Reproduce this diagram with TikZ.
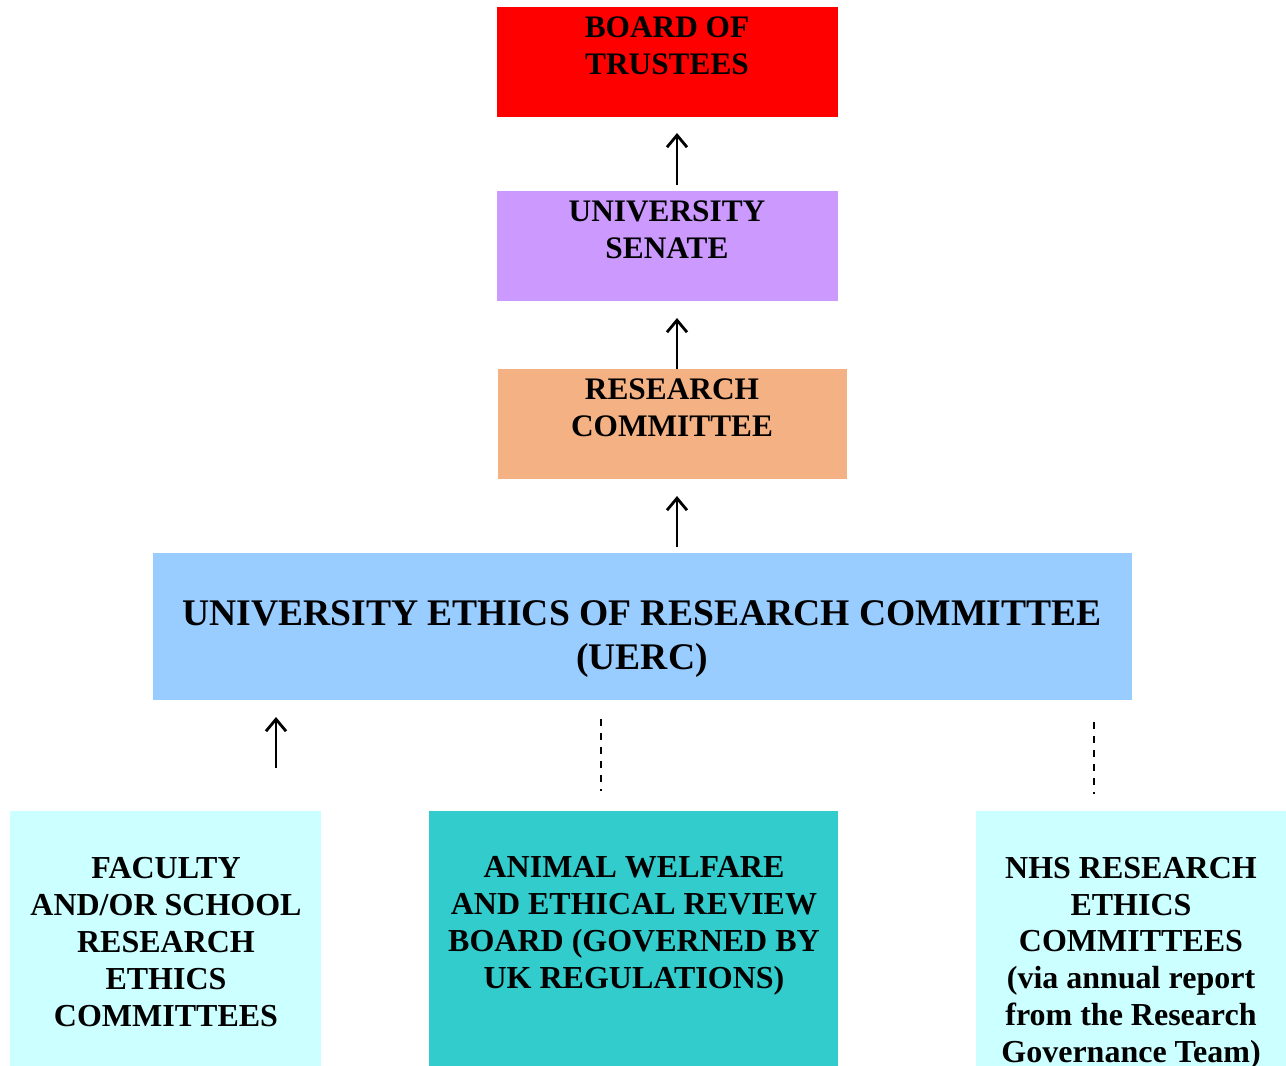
\documentclass[tikz,border=0pt]{standalone}
\usepackage{fontspec}
\setmainfont{Liberation Serif}
\usetikzlibrary{arrows.meta}
\definecolor{cred}{HTML}{FF0000}
\definecolor{cpurple}{HTML}{CC99FF}
\definecolor{corange}{HTML}{F4B183}
\definecolor{cblue}{HTML}{99CCFF}
\definecolor{ccyan}{HTML}{CCFFFF}
\definecolor{cteal}{HTML}{33CCCC}
\tikzset{
  box/.style={draw=none, inner sep=0pt, anchor=north west},
  lbl/.style={inner sep=0pt, align=center, font=\bfseries\fontsize{23.5}{27.5}\selectfont},
  biglbl/.style={inner sep=0pt, align=center, font=\bfseries\fontsize{28.2}{33}\selectfont},
  botlbl/.style={inner sep=0pt, align=center, font=\bfseries\fontsize{24}{27.6}\selectfont},
  uparrow/.style={line width=2.1pt, -{Straight Barb[length=9pt,width=15pt,line width=2.1pt]}},
  dashline/.style={line width=1.1pt, dash pattern=on 5.5pt off 5pt},
}
\begin{document}
\begin{tikzpicture}[x=0.75pt,y=-0.75pt]
\useasboundingbox (0,0) rectangle (1286,1065);
\clip (0,0) rectangle (1286,1065);
% boxes
\node[box, fill=cred, minimum width=341*0.75pt, minimum height=110*0.75pt] (board) at (497,7) {};
\node[box, fill=cpurple, minimum width=341*0.75pt, minimum height=110*0.75pt] (senate) at (497,191) {};
\node[box, fill=corange, minimum width=349*0.75pt, minimum height=110*0.75pt] (research) at (498,369) {};
\node[box, fill=cblue, minimum width=979*0.75pt, minimum height=147*0.75pt] (uerc) at (153,553) {};
\node[box, fill=ccyan, minimum width=311*0.75pt, minimum height=260*0.75pt] (faculty) at (10,811) {};
\node[box, fill=cteal, minimum width=409*0.75pt, minimum height=260*0.75pt] (animal) at (429,811) {};
\node[box, fill=ccyan, minimum width=320*0.75pt, minimum height=260*0.75pt] (nhs) at (976,811) {};
% labels
\node[lbl] (boardt) at (667,46) {BOARD OF\\TRUSTEES};
\node[lbl] (senatet) at (667,230) {UNIVERSITY\\SENATE};
\node[lbl] (researcht) at (672,408) {RESEARCH\\COMMITTEE};
\node[biglbl] (uerct) at (642,639) {UNIVERSITY ETHICS OF RESEARCH COMMITTEE\\(UERC)};
\node[botlbl] (facultyt) at (166,942) {FACULTY\\AND/OR SCHOOL\\RESEARCH\\ETHICS\\COMMITTEES};
\node[botlbl] (animalt) at (634,926) {ANIMAL WELFARE\\AND ETHICAL REVIEW\\BOARD (GOVERNED BY\\UK REGULATIONS)};
\node[botlbl] (nhst) at (1131,963) {NHS RESEARCH\\ETHICS\\COMMITTEES\\(via annual report\\from the Research\\Governance Team)};
% arrow end coordinates
\coordinate (a1s) at (677,185); \coordinate (a1e) at (677,133);
\coordinate (a2s) at (677,369); \coordinate (a2e) at (677,318);
\coordinate (a3s) at (677,547); \coordinate (a3e) at (677,496);
\coordinate (a4s) at (276,768); \coordinate (a4e) at (276,717);
\coordinate (d1s) at (601,719); \coordinate (d1e) at (601,791);
\coordinate (d2s) at (1094,722); \coordinate (d2e) at (1094,794);
\draw[uparrow] (a1s) -- (a1e);
\draw[uparrow] (a2s) -- (a2e);
\draw[uparrow] (a3s) -- (a3e);
\draw[uparrow] (a4s) -- (a4e);
\draw[dashline] (d1s) -- (d1e);
\draw[dashline] (d2s) -- (d2e);
\end{tikzpicture}
\end{document}
